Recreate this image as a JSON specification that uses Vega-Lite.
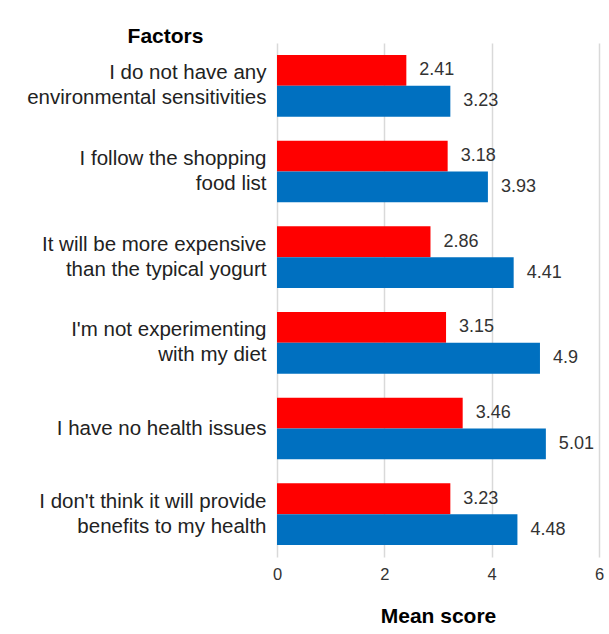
{
  "$schema": "https://vega.github.io/schema/vega-lite/v6.json",
  "width": 322,
  "height": 514,
  "autosize": {"type": "none"},
  "padding": {"left": 277, "top": 43, "right": 10, "bottom": 77},
  "background": "white",
  "config": {
    "font": "Liberation Sans",
    "view": {"stroke": null}
  },
  "data": {
    "values": [
      {"factor": "I do not have any|environmental sensitivities", "series": "Series 1", "value": 2.41},
      {"factor": "I do not have any|environmental sensitivities", "series": "Series 2", "value": 3.23},
      {"factor": "I follow the shopping|food list", "series": "Series 1", "value": 3.18},
      {"factor": "I follow the shopping|food list", "series": "Series 2", "value": 3.93},
      {"factor": "It will be more expensive|than the typical yogurt", "series": "Series 1", "value": 2.86},
      {"factor": "It will be more expensive|than the typical yogurt", "series": "Series 2", "value": 4.41},
      {"factor": "I'm not experimenting|with my diet", "series": "Series 1", "value": 3.15},
      {"factor": "I'm not experimenting|with my diet", "series": "Series 2", "value": 4.9},
      {"factor": "I have no  health issues", "series": "Series 1", "value": 3.46},
      {"factor": "I have no  health issues", "series": "Series 2", "value": 5.01},
      {"factor": "I don't think it will provide|benefits to my health", "series": "Series 1", "value": 3.23},
      {"factor": "I don't think it will provide|benefits to my health", "series": "Series 2", "value": 4.48}
    ]
  },
  "encoding": {
    "y": {
      "field": "factor",
      "type": "nominal",
      "sort": null,
      "scale": {"paddingInner": 0.28, "paddingOuter": 0.14},
      "axis": {
        "title": "Factors",
        "titleAngle": 0,
        "titleAlign": "center",
        "titleBaseline": "alphabetic",
        "titleX": -112,
        "titleY": -1,
        "titleFontSize": 21,
        "titleFontWeight": "bold",
        "titleColor": "#000000",
        "labelExpr": "split(datum.label, '|')",
        "labelFontSize": 20.5,
        "labelLineHeight": 25,
        "labelColor": "#222222",
        "labelPadding": 11,
        "labelLimit": 400,
        "labelOffset": {"condition": {"test": "indexof(datum.value, '|') >= 0", "value": -12.5}, "value": 0},
        "domain": false,
        "ticks": false,
        "grid": false
      }
    },
    "yOffset": {
      "field": "series",
      "type": "nominal",
      "sort": ["Series 1", "Series 2"],
      "scale": {"paddingInner": 0, "paddingOuter": 0}
    },
    "x": {
      "field": "value",
      "type": "quantitative",
      "scale": {"domain": [0, 6], "nice": false},
      "axis": {
        "title": "Mean score",
        "titleFontSize": 21,
        "titleFontWeight": "bold",
        "titleColor": "#000000",
        "titleBaseline": "alphabetic",
        "titleY": 65,
        "values": [0, 2, 4, 6],
        "labelFontSize": 16.5,
        "labelColor": "#333333",
        "labelPadding": 9,
        "labelFlush": false,
        "domain": false,
        "ticks": false,
        "grid": true,
        "gridColor": "#d9d9d9",
        "gridWidth": 1.5
      }
    }
  },
  "layer": [
    {
      "mark": {"type": "bar"},
      "encoding": {
        "color": {
          "field": "series",
          "type": "nominal",
          "scale": {"domain": ["Series 1", "Series 2"], "range": ["#ff0000", "#0070c0"]},
          "legend": null
        }
      }
    },
    {
      "mark": {"type": "text", "align": "left", "baseline": "middle", "dx": 13, "fontSize": 18, "color": "#333333"},
      "encoding": {
        "text": {"field": "value", "type": "quantitative"}
      }
    }
  ]
}
